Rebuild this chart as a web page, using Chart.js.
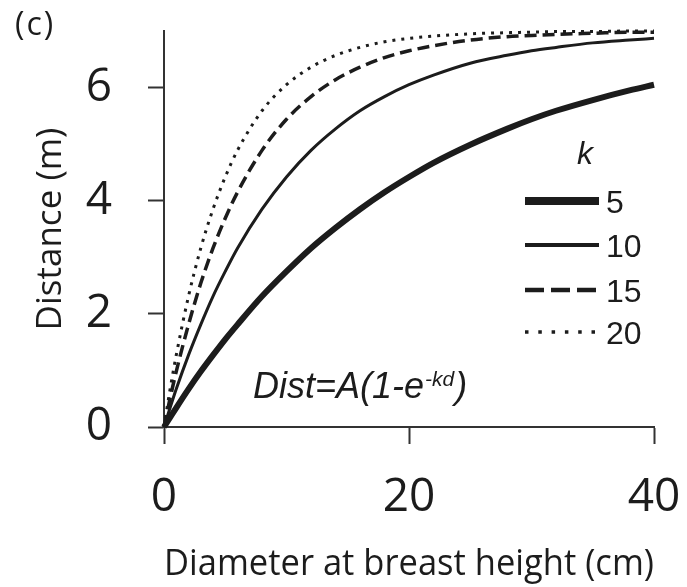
<!DOCTYPE html>
<html><head><meta charset="utf-8">
<script src="https://cdn.jsdelivr.net/npm/chart.js@4"></script>
<style>html,body{margin:0;padding:0;background:#fff}#wrap{width:687px;height:587px}</style>
</head><body><div id="wrap"><canvas id="c" width="687" height="587"></canvas></div>
<script>
// ---- data ----
const dbh      = [0,0.5,1,2,3,4,5,6,8,10,12,14,16,18,20,22,25,28,30,32,35,38,40];
const dist_k5  = [0,0.17,0.34,0.67,0.98,1.27,1.55,1.81,2.31,2.75,3.16,3.52,3.85,4.15,4.42,4.67,4.99,5.27,5.44,5.59,5.78,5.95,6.05];
const dist_k10 = [0,0.34,0.67,1.27,1.81,2.31,2.75,3.16,3.85,4.42,4.89,5.27,5.59,5.84,6.05,6.22,6.43,6.57,6.65,6.71,6.79,6.84,6.87];
const dist_k15 = [0,0.51,0.98,1.81,2.54,3.16,3.69,4.15,4.89,5.44,5.84,6.14,6.36,6.53,6.65,6.74,6.84,6.90,6.92,6.94,6.96,6.98,6.98];
const dist_k20 = [0,0.67,1.27,2.31,3.16,3.85,4.42,4.89,5.59,6.05,6.36,6.57,6.71,6.81,6.87,6.91,6.95,6.97,6.98,6.99,6.99,7.00,7.00];
const kLabels  = ['5','10','15','20'];
const xTicks   = [0,20,40];
const yTicks   = [0,2,4,6];
const xTitle   = 'Diameter at breast height (cm)';
const yTitle   = 'Distance (m)';
const legendTitle = 'k';
const panelLabel  = '(c)';

// ---- styles ----
const INK = '#1c1c1c';
const series = [dist_k5, dist_k10, dist_k15, dist_k20];
const lineStyles = [
  {w:6,   dash:[]},
  {w:3,   dash:[]},
  {w:3.5, dash:[12,6]},
  {w:3,   dash:[3,6]}
];
const legendStyles = [
  {w:8, dash:[]},
  {w:4, dash:[]},
  {w:4.5, dash:[19,7]},
  {w:3.5, dash:[3.5,9.8]}
];

const datasets = series.map((s,i)=>({
  label: kLabels[i],
  data: dbh.map((x,j)=>({x:x, y:s[j]})),
  borderColor: INK,
  borderWidth: lineStyles[i].w,
  borderDash: lineStyles[i].dash,
  borderCapStyle: 'butt',
  pointRadius: 0,
  fill: false,
  cubicInterpolationMode: 'monotone',
  clip: false
}));

const annot = {
  id: 'annot',
  afterDraw(chart){
    const ctx = chart.ctx;
    ctx.save();
    ctx.fillStyle = INK;
    ctx.strokeStyle = INK;
    // panel label
    ctx.font = '32px "Open Sans"';
    ctx.textBaseline = 'alphabetic';
    ctx.textAlign = 'left';
    try { ctx.letterSpacing = '2px'; } catch(e){}
    ctx.fillText(panelLabel, 15, 35);
    try { ctx.letterSpacing = '0px'; } catch(e){}
    // legend
    ctx.font = 'italic 32px "Liberation Sans"';
    ctx.textAlign = 'center';
    ctx.fillText(legendTitle, 585, 164);
    const rows = [201,245,290,332];
    chart.data.datasets.forEach((ds,i)=>{
      const y = rows[i];
      ctx.beginPath();
      ctx.lineWidth = legendStyles[i].w;
      ctx.setLineDash(legendStyles[i].dash);
      ctx.lineCap = 'butt';
      ctx.moveTo(525, y);
      ctx.lineTo(599, y);
      ctx.stroke();
      ctx.setLineDash([]);
      ctx.font = '32px "Liberation Sans"';
      ctx.textAlign = 'left';
      ctx.fillText(ds.label, 606, y + 11.5);
    });
    // formula
    ctx.font = 'italic 36px "Liberation Sans"';
    ctx.textAlign = 'left';
    let x = 253;
    const base = 398;
    const t1 = 'Dist=A(1-e';
    ctx.fillText(t1, x, base);
    x += ctx.measureText(t1).width + 1;
    ctx.font = 'italic 21px "Liberation Sans"';
    const t2 = '-kd';
    ctx.fillText(t2, x, base - 12);
    x += ctx.measureText(t2).width + 1;
    ctx.font = 'italic 36px "Liberation Sans"';
    ctx.fillText(')', x, base);
    ctx.restore();
  }
};

new Chart(document.getElementById('c'), {
  type: 'line',
  data: { datasets },
  options: {
    responsive: false,
    animation: false,
    devicePixelRatio: 1,
    layout: { padding: { top: 31, right: 33, left: 0, bottom: 0 } },
    plugins: { legend: { display: false }, tooltip: { enabled: false } },
    scales: {
      x: {
        type: 'linear', min: 0, max: 40,
        afterBuildTicks: s => { s.ticks = xTicks.map(v => ({ value: v })); },
        afterFit: s => { s.height = 160; s.paddingLeft = 0; s.paddingRight = 0; },
        grid: { drawOnChartArea: false, drawTicks: true, tickLength: 17, tickWidth: 2, tickColor: '#333' },
        border: { display: true, color: '#333', width: 2 },
        ticks: { font: { family: 'Open Sans', size: 46, lineHeight: 1 }, color: INK, padding: 31, maxRotation: 0, autoSkip: false },
        title: { display: true, text: xTitle, font: { family: 'Open Sans', size: 36, lineHeight: 1 }, color: INK, padding: { top: 0, bottom: 4 } }
      },
      y: {
        type: 'linear', min: 0, max: 7,
        afterBuildTicks: s => { s.ticks = yTicks.map(v => ({ value: v })); },
        afterFit: s => { s.width = 164; s.paddingTop = 0; s.paddingBottom = 0; },
        grid: { drawOnChartArea: false, drawTicks: true, tickLength: 16, tickWidth: 2, tickColor: '#333' },
        border: { display: true, color: '#333', width: 2 },
        ticks: { font: { family: 'Open Sans', size: 46, lineHeight: 1 }, color: INK, padding: 36 },
        title: { display: true, text: yTitle, font: { family: 'Open Sans', size: 35, lineHeight: 1 }, color: INK, padding: { top: 34, bottom: 0 } }
      }
    }
  },
  plugins: [annot]
});
</script>
</body></html>
